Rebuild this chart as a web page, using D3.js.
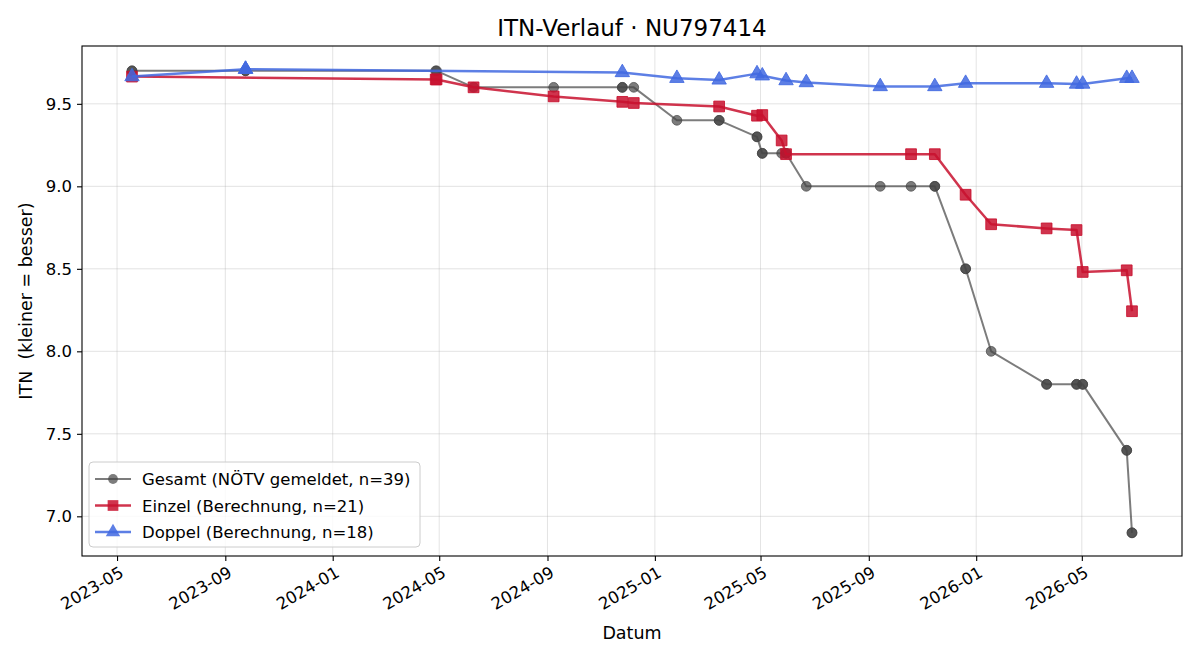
<!DOCTYPE html>
<html>
  <head>
    <meta charset="utf-8">
    <title>ITN-Verlauf</title>
    <script src="https://cdn.jsdelivr.net/npm/d3@7"></script>
    <style>
    body {margin:0; background:#fff;}
    svg text {font-family:"DejaVu Sans", sans-serif; fill:#000;}
    </style>
    <script>
    // Gesamt (NÖTV gemeldet)
    var gesamtDates=['2023-05-18','2023-05-18','2023-09-24','2023-09-24','2024-04-27','2024-04-28',
      '2024-06-09','2024-09-08','2024-11-25','2024-11-25','2024-12-08','2025-01-26','2025-03-15',
      '2025-03-15','2025-04-27','2025-04-27','2025-05-03','2025-05-03','2025-05-25','2025-05-30',
      '2025-05-30','2025-06-22','2025-09-14','2025-10-19','2025-11-15','2025-11-15','2025-12-20',
      '2025-12-20','2026-01-18','2026-03-22','2026-03-22','2026-04-25','2026-04-25','2026-05-02',
      '2026-05-02','2026-06-21','2026-06-21','2026-06-27','2026-06-27'];
    var gesamtValues=[9.7,9.7,9.7,9.7,9.7,9.7,9.6,9.6,9.6,9.6,9.6,9.4,9.4,9.4,9.3,9.3,9.2,9.2,9.2,9.2,
      9.2,9.0,9.0,9.0,9.0,9.0,8.5,8.5,8.0,7.8,7.8,7.8,7.8,7.8,7.8,7.4,7.4,6.9,6.9];

    // Einzel (Berechnung)
    var einzelDates=['2023-05-18','2024-04-27','2024-04-28','2024-06-09','2024-09-08','2024-11-25',
      '2024-12-08','2025-03-15','2025-04-27','2025-05-03','2025-05-25','2025-05-30','2025-10-19',
      '2025-11-15','2025-12-20','2026-01-18','2026-03-22','2026-04-25','2026-05-02','2026-06-21','2026-06-27'];
    var einzelValues=[9.665,9.648,9.648,9.60,9.545,9.512,9.505,9.484,9.428,9.432,9.278,9.195,9.195,
      9.195,8.949,8.77,8.745,8.735,8.481,8.491,8.243];

    // Doppel (Berechnung)
    var doppelDates=['2023-05-18','2023-09-24','2023-09-24','2024-11-25','2025-01-26','2025-03-15',
      '2025-04-27','2025-05-03','2025-05-30','2025-06-22','2025-09-14','2025-11-15','2025-12-20',
      '2026-03-22','2026-04-25','2026-05-02','2026-06-21','2026-06-27'];
    var doppelValues=[9.665,9.71,9.71,9.69,9.655,9.645,9.683,9.67,9.641,9.629,9.605,9.605,9.625,
      9.625,9.62,9.62,9.655,9.655];

    var yTicks=[7.0,7.5,8.0,8.5,9.0,9.5];

    window.onload=function (){
      var svg=d3.select('#svg1');
      var parse=d3.timeParse('%Y-%m-%d');
      var left=82, right=1182, top=46, bottom=556;

      function pts(dates, values){
        return dates.map(function(d,i){ return {x:parse(d), y:values[i]}; });
      }
      var series=[
        {name:'Gesamt (NÖTV gemeldet, n=39)', data:pts(gesamtDates,gesamtValues),
         color:'#444', alpha:0.7, width:2, shape:'circle'},
        {name:'Einzel (Berechnung, n=21)', data:pts(einzelDates,einzelValues),
         color:'#c8102e', alpha:0.85, width:2.5, shape:'square'},
        {name:'Doppel (Berechnung, n=18)', data:pts(doppelDates,doppelValues),
         color:'#4169e1', alpha:0.85, width:2.5, shape:'triangle'}
      ];
      function symbolFor(s){
        return s.shape=='circle' ? d3.symbol(d3.symbolCircle,75)
          : s.shape=='square' ? d3.symbol(d3.symbolSquare,115) : d3.symbol(d3.symbolTriangle,90);
      }

      var all=[];
      series.forEach(function(s){ all=all.concat(s.data); });
      var xExt=d3.extent(all, function(d){ return +d.x; });
      var yExt=d3.extent(all, function(d){ return d.y; });
      var xPad=(xExt[1]-xExt[0])*0.05, yPad=(yExt[1]-yExt[0])*0.05;

      var x=d3.scaleTime()
        .domain([new Date(xExt[0]-xPad), new Date(xExt[1]+xPad)])
        .range([left, right]);
      var y=d3.scaleLinear()
        .domain([yExt[0]-yPad, yExt[1]+yPad])
        .range([bottom, top]);

      var xTicks=x.ticks(d3.timeMonth.every(4));

      //grid
      var grid=svg.append('g');
      xTicks.forEach(function(t){
        grid.append('line').attr('x1',x(t)).attr('x2',x(t)).attr('y1',top).attr('y2',bottom)
          .attr('stroke','#b0b0b0').attr('stroke-opacity',0.35).attr('stroke-width',1);
      });
      yTicks.forEach(function(t){
        grid.append('line').attr('x1',left).attr('x2',right).attr('y1',y(t)).attr('y2',y(t))
          .attr('stroke','#b0b0b0').attr('stroke-opacity',0.35).attr('stroke-width',1);
      });

      //axes
      var xAxis=svg.append('g').attr('transform','translate(0,'+bottom+')')
        .call(d3.axisBottom(x).tickValues(xTicks).tickFormat(d3.timeFormat('%Y-%m'))
          .tickSizeInner(5).tickSizeOuter(0));
      xAxis.selectAll('text')
        .style('font-size','16.5px')
        .attr('text-anchor','end')
        .attr('x',0).attr('y',0)
        .attr('dy','0.76em')
        .attr('transform','translate(1,9) rotate(-30)');
      var yAxis=svg.append('g').attr('transform','translate('+left+',0)')
        .call(d3.axisLeft(y).tickValues(yTicks).tickFormat(d3.format('.1f'))
          .tickSizeInner(5).tickSizeOuter(0).tickPadding(5));
      yAxis.selectAll('text').style('font-size','16.5px');
      svg.selectAll('.domain').remove();
      svg.selectAll('.tick line').attr('stroke','#000').attr('stroke-width',1.1);

      //lines + markers
      var plot=svg.append('g');
      series.forEach(function(s){
        var line=d3.line().x(function(d){ return x(d.x); }).y(function(d){ return y(d.y); });
        plot.append('path').attr('d',line(s.data)).attr('fill','none')
          .attr('stroke',s.color).attr('stroke-opacity',s.alpha).attr('stroke-width',s.width)
          .attr('stroke-linejoin','round');
        plot.selectAll(null).data(s.data).enter().append('path')
          .attr('d',symbolFor(s)())
          .attr('transform',function(d){ return 'translate('+x(d.x)+','+y(d.y)+')'; })
          .attr('fill',s.color).attr('fill-opacity',s.alpha)
          .attr('stroke',s.color).attr('stroke-opacity',s.alpha).attr('stroke-width',1);
      });

      //frame
      svg.append('rect').attr('x',left).attr('y',top).attr('width',right-left).attr('height',bottom-top)
        .attr('fill','none').attr('stroke','#000').attr('stroke-width',1.1);

      //titles
      svg.append('text').attr('x',(left+right)/2).attr('y',36).attr('text-anchor','middle')
        .style('font-size','23px').text('ITN-Verlauf · NU797414');
      svg.append('text').attr('x',(left+right)/2).attr('y',639).attr('text-anchor','middle')
        .style('font-size','17.5px').text('Datum');
      svg.append('text').attr('transform','translate(32,'+((top+bottom)/2)+') rotate(-90)')
        .attr('text-anchor','middle').style('font-size','17.5px').style('white-space','pre')
        .text('ITN  (kleiner = besser)');

      //legend
      var lg=svg.append('g').attr('transform','translate(89,462)');
      lg.append('rect').attr('width',331).attr('height',85).attr('rx',4)
        .attr('fill','#fff').attr('fill-opacity',0.8).attr('stroke','#ccc').attr('stroke-width',1);
      series.forEach(function(s,i){
        var cy=17+i*26.5;
        lg.append('line').attr('x1',6).attr('x2',42).attr('y1',cy).attr('y2',cy)
          .attr('stroke',s.color).attr('stroke-opacity',s.alpha).attr('stroke-width',s.width);
        lg.append('path').attr('d',symbolFor(s)()).attr('transform','translate(24,'+cy+')')
          .attr('fill',s.color).attr('fill-opacity',s.alpha);
        lg.append('text').attr('x',53).attr('y',cy+6).style('font-size','16.5px').text(s.name);
      });
    };
    </script>
  </head>
  <body>
    <svg id="svg1" width="1200" height="660"></svg>
  </body>
</html>
